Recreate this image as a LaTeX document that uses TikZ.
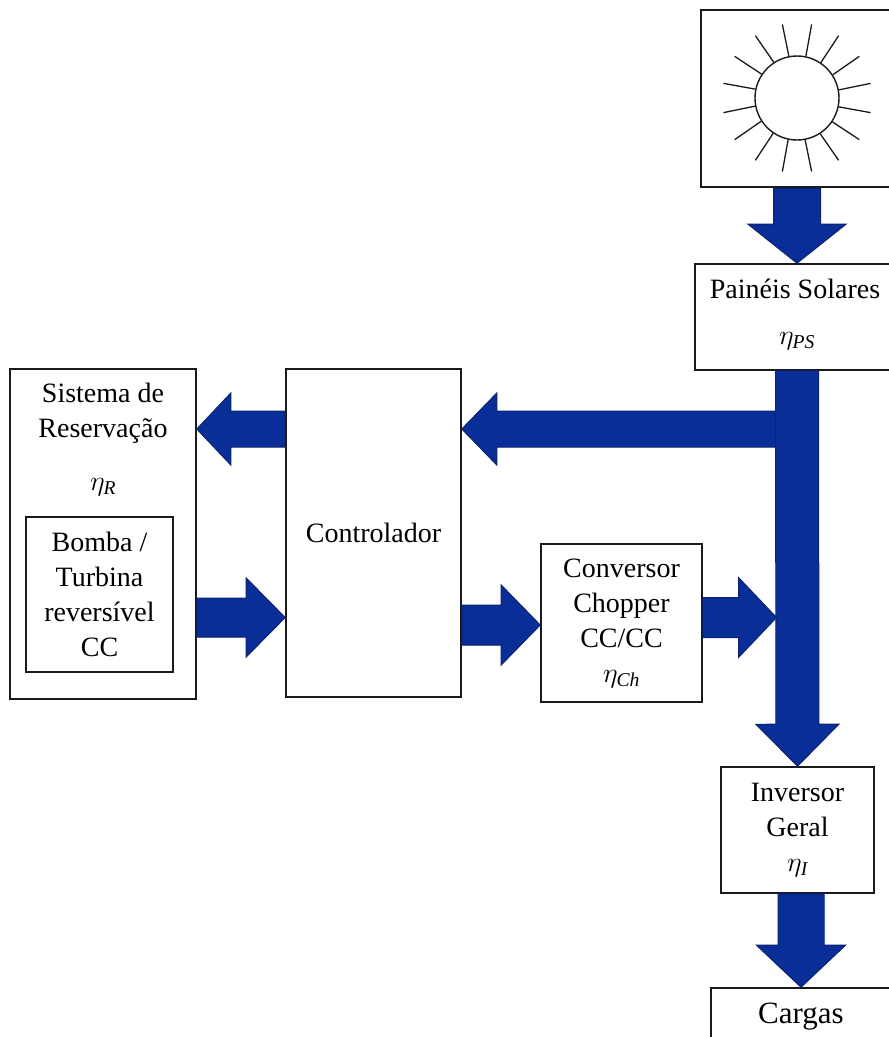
\RequirePackage{fix-cm}
\documentclass[tikz,border=0pt]{standalone}
\usepackage{fontspec}
\setmainfont{Liberation Serif}
\usetikzlibrary{calc}
\definecolor{flowfill}{HTML}{0A2E98}
\definecolor{flowedge}{HTML}{0A2270}
\definecolor{ink}{HTML}{1A1A1A}
\tikzset{
  box/.style={draw=ink,line width=1.6pt,fill=white,inner sep=0pt,align=center,text=black,
    font=\fontsize{28}{35}\selectfont},
  caption/.style={inner sep=0pt,align=center,text=black,font=\fontsize{28}{35}\selectfont},
  flow/.style={fill=flowfill,draw=flowedge,line width=1pt,line join=miter},
  ray/.style={draw=ink,line width=1.3pt}
}
\newcommand{\blockarrow}[5]{%
  \coordinate (bah) at ($(#2)!#5pt!(#1)$);
  \draw[flow] ($(#1)!#3pt!90:(#2)$) -- ($(bah)!#3pt!90:(#2)$) -- ($(bah)!#4pt!90:(#2)$)
    -- (#2) -- ($(bah)!#4pt!-90:(#2)$) -- ($(bah)!#3pt!-90:(#2)$) -- ($(#1)!#3pt!-90:(#2)$) -- cycle;}
\newcommand{\etasub}[1]{$\eta_{\mathit{#1}}$}
\begin{document}
\begin{tikzpicture}[x=1pt,y=-1pt]
\useasboundingbox (0,0) rectangle (889,1037);
\clip (0,0) rectangle (889,1037);
\fill[white] (0,0) rectangle (889,1037);
% boxes
\node[box,line width=2.6pt,minimum width=192pt,minimum height=177pt] (sunbox) at (797,98.5) {};
\node[draw=ink,line width=1.4pt,circle,minimum size=84pt,inner sep=0pt] (sun) at (797,98) {};
\foreach \a in {11.25,33.75,...,350}{
  \draw[ray] (sun.\a) -- ($(sun.center)+(\a:75pt)$);
}
\node[box,minimum width=204pt,minimum height=106pt] (paineis) at (797,317) {};
\node[caption] (paineist) at (795,289) {Painéis Solares};
\node[caption] (etaps) at (797,341) {\etasub{PS}};
\node[box,minimum width=186pt,minimum height=330pt] (sistema) at (103,534) {};
\node[caption] (sistemat) at (103,413) {Sistema de\\Reservação};
\node[caption] (etar) at (103,487) {\etasub{R}};
\node[box,minimum width=147pt,minimum height=155pt] (bomba) at (99.5,594.5) {Bomba /\\Turbina\\reversível\\CC};
\node[box,minimum width=175pt,minimum height=328pt] (ctrl) at (373.5,533) {Controlador};
\node[box,minimum width=161pt,minimum height=158pt] (chopper) at (621.5,623) {Conversor\\Chopper\\CC/CC\\\etasub{Ch}};
\node[box,minimum width=153pt,minimum height=126pt] (inversor) at (797.5,830) {Inversor\\Geral\\\etasub{I}};
\node[box,minimum width=180pt,minimum height=70pt] (cargas) at (801,1023) {};
\node[caption,font=\fontsize{31}{35}\selectfont] (cargast) at (801,1017) {Cargas};
% anchor levels of the horizontal flows
\coordinate (lvlA) at (0,429);
\coordinate (lvlB) at (0,617.5);
\coordinate (lvlC) at (0,625);
\coordinate (busx) at (776.5,0);
\coordinate (a1s) at (ctrl.west |- lvlA);
\coordinate (a1t) at (sistema.east |- lvlA);
\coordinate (a2s) at (sistema.east |- lvlB);
\coordinate (a2t) at (ctrl.west |- lvlB);
\coordinate (a3s) at (ctrl.east |- lvlC);
\coordinate (a3t) at (chopper.west |- lvlC);
\coordinate (a4s) at (chopper.east |- lvlB);
\coordinate (a4t) at (busx |- lvlB);
\coordinate (a5s) at (busx |- lvlA);
\coordinate (a5t) at (ctrl.east |- lvlA);
\coordinate (a6s) at (cargas.north |- inversor.south);
% flows
\blockarrow{sunbox.south}{paineis.north}{23.5}{49}{39}
\blockarrow{a5s}{a5t}{18}{36}{35}
\blockarrow{paineis.south}{inversor.north}{21.5}{41.5}{42}
\blockarrow{a1s}{a1t}{18}{36}{34}
\blockarrow{a2s}{a2t}{19.5}{39.5}{39}
\blockarrow{a3s}{a3t}{20}{40}{39}
\blockarrow{a4s}{a4t}{20}{40}{38}
\blockarrow{a6s}{cargas.north}{23}{44.5}{42}
\end{tikzpicture}
\end{document}
